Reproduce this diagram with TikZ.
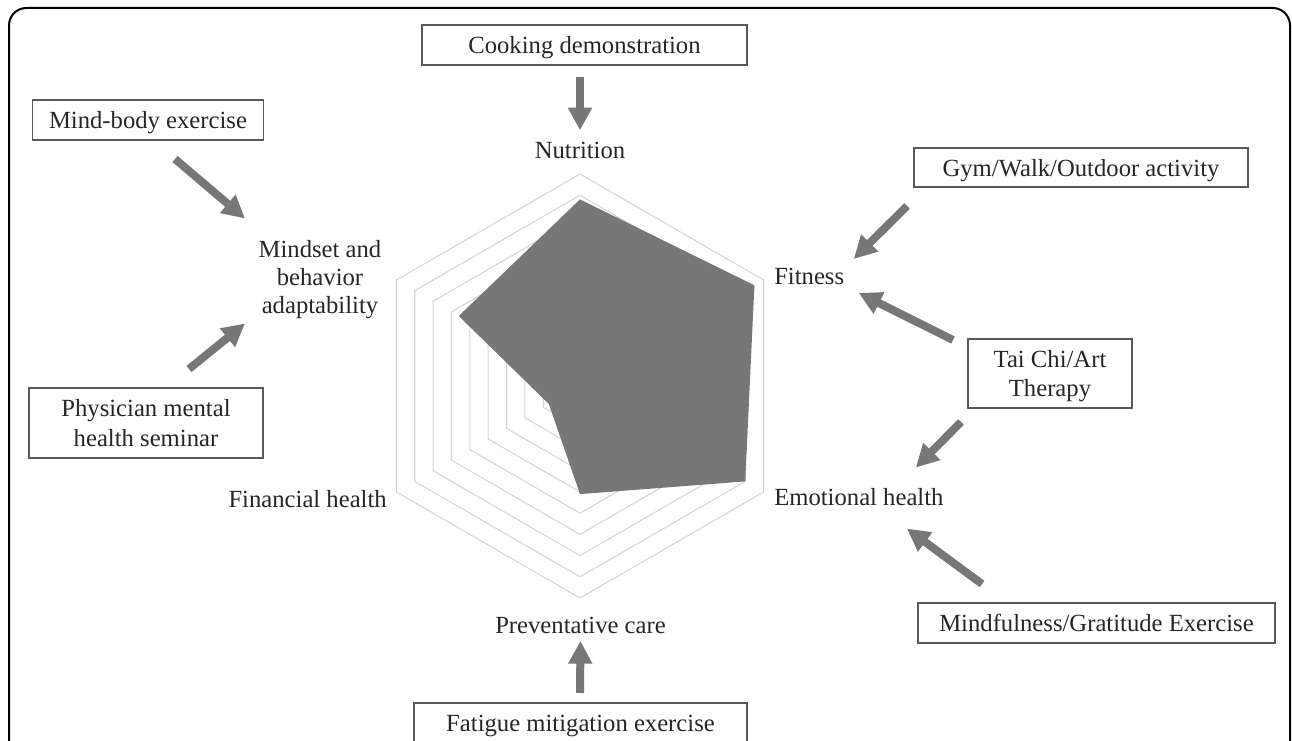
\documentclass[tikz,border=0pt]{standalone}
\usepackage{fontspec}
\setmainfont{Liberation Serif}
\usetikzlibrary{arrows.meta}
\definecolor{radargray}{HTML}{777777}
\definecolor{gridgray}{HTML}{D4D4D4}
\tikzset{
  boxnode/.style={draw=black!65,line width=0.8pt,align=center,inner sep=0pt,text depth=0pt,text=black!85},
  axislabel/.style={inner sep=0pt,text=black!85},
  bigarrow/.style={draw=radargray,line width=6pt,-{Triangle[length=17pt,width=17pt]}},
}
\begin{document}
\begin{tikzpicture}[x=0.75pt,y=-0.75pt,font=\fontsize{18.5pt}{22pt}\selectfont]
\useasboundingbox (0,0) rectangle (1292,741);
\draw[line width=1.5pt,rounded corners=13pt] (9,8) rectangle (1290,790);% Outer Frame

\begin{scope}[shift={(580,386)}]
\foreach \k in {1,...,10}{
  \pgfmathsetmacro\rr{\k*21.2}
  \draw[gridgray,line width=0.8pt] (-90:\rr) -- (-30:\rr) -- (30:\rr) -- (90:\rr) -- (150:\rr) -- (210:\rr) -- cycle;% Grid Ring
}
\fill[radargray] (-90:186.6) -- (-30:201.4) -- (30:190.8) -- (90:108.1) -- (150:36) -- (210:140) -- cycle;% Scores
\end{scope}

\node[axislabel,anchor=base] (NU) at (580,159) {Nutrition};
\node[axislabel,anchor=base west] (FI) at (774,285) {Fitness};
\node[axislabel,anchor=base west] (EM) at (774,505) {Emotional health};
\node[axislabel,anchor=base] (PC) at (580.5,633) {Preventative care};
\node[axislabel,anchor=base east] (FH) at (387,507) {Financial health};
\node[axislabel,align=center,font=\fontsize{18.5pt}{21pt}\selectfont] (MB) at (320,279.5) {Mindset and\\behavior\\adaptability};

\node[boxnode,minimum width=243.75pt,minimum height=30pt] (CK) at (584.5,45) {Cooking demonstration};
\node[boxnode,minimum width=173.25pt,minimum height=30pt] (MBE) at (148,120) {Mind-body exercise};
\node[boxnode,minimum width=250.5pt,minimum height=29.25pt] (GYM) at (1081,167.5) {Gym/Walk/Outdoor activity};
\node[boxnode,minimum width=123pt,minimum height=51.75pt] (TC) at (1050,373.5) {Tai Chi/Art\\Therapy};
\node[boxnode,minimum width=175.5pt,minimum height=52.5pt] (PMS) at (146,423) {Physician mental\\health seminar};
\node[boxnode,minimum width=267.75pt,minimum height=30pt] (MG) at (1096.5,623) {Mindfulness/Gratitude Exercise};
\node[boxnode,minimum width=249.75pt,minimum height=30pt] (FME) at (580.5,723) {Fatigue mitigation exercise};

\draw[bigarrow] ([shift={(-4.5,32)}]CK.center) -- ([shift={(0,-20.6)}]NU.center);
\draw[bigarrow] ([shift={(27,39)}]MBE.center) -- ([shift={(-75,-61)}]MB.center);
\draw[bigarrow] ([shift={(43,-54)}]PMS.center) -- ([shift={(-75,44)}]MB.center);
\draw[bigarrow] ([shift={(-174,38.5)}]GYM.center) -- ([shift={(44.5,-18)}]FI.center);
\draw[bigarrow] ([shift={(-97,-33.5)}]TC.center) -- ([shift={(49.5,16)}]FI.center);
\draw[bigarrow] ([shift={(-89,48.5)}]TC.center) -- ([shift={(57,-29)}]EM.center);
\draw[bigarrow] ([shift={(-114.5,-39)}]MG.center) -- ([shift={(48,32)}]EM.center);
\draw[bigarrow] ([shift={(-0.5,-30)}]FME.center) -- ([shift={(0,16)}]PC.center);
%\foreach \n in {NU,FI,EM,PC,FH,MB}{\fill[red] (\n) circle (2);}
\end{tikzpicture}
\end{document}
